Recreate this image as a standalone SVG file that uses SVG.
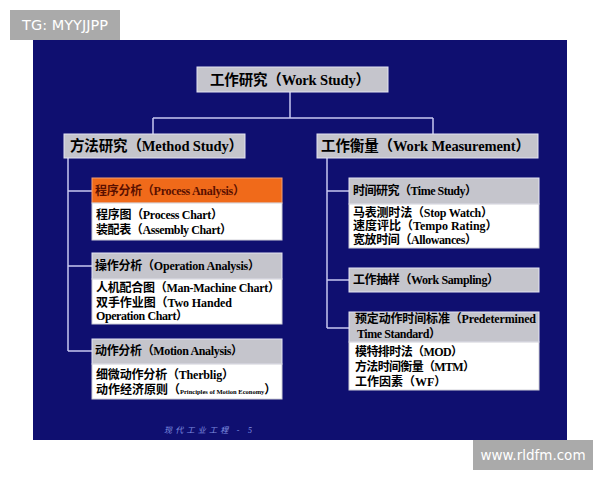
<svg xmlns="http://www.w3.org/2000/svg" width="600" height="480" viewBox="0 0 600 480">
<style>
.t{font-family:"Liberation Serif","Noto Sans CJK SC",serif;font-weight:bold;fill:#000}
.big{font-size:14.5px}
.sm{font-size:12px}
.hd{fill:#c5c5cc;stroke:#e4e4f2;stroke-width:1}
.bd{fill:#ffffff;stroke:#d0d0d8;stroke-width:1}
.ln{fill:none;stroke:#c8c8f0;stroke-width:1.5}
.wm{font-family:"DejaVu Sans",sans-serif;fill:#ffffff}
</style>
<rect x="0" y="0" width="600" height="480" fill="#ffffff"/>
<rect x="33" y="40" width="534" height="400" fill="#0f0f70"/>
<g id="watermark-top"><rect x="10" y="10" width="110" height="30" fill="#aaaaaa"/><text class="wm" x="65" y="30" font-size="14.5" text-anchor="middle">TG: MYYJJPP</text></g>
<g id="watermark-bottom"><rect x="473" y="440" width="120" height="30" fill="#aaaaaa"/><text class="wm" x="533" y="460" font-size="13.5" text-anchor="middle">www.rldfm.com</text></g>
<g id="connectors">
<path class="ln" d="M290 92 V118 M153 118 H433 M153 118 V134 M433 118 V134"/>
<path class="ln" d="M68 158 V351 M68 191 H92 M68 266 H92 M68 351 H92"/>
<path class="ln" d="M327 158 V328 M327 191 H349 M327 280 H349 M327 328 H349"/>
</g>
<g id="work-study"><rect class="hd" x="197" y="67" width="191" height="25"/><text class="t big" x="210" y="84.5" textLength="160">工作研究（Work Study）</text></g>
<g id="method-study"><rect class="hd" x="64" y="134" width="181" height="24"/><text class="t big" x="70" y="151" textLength="173">方法研究（Method Study）</text></g>
<g id="work-measurement"><rect class="hd" x="317" y="134" width="221" height="24"/><text class="t big" x="321" y="151" textLength="209">工作衡量（Work Measurement）</text></g>
<g id="process-analysis">
<rect x="92" y="178" width="190" height="25" fill="#f06a1a" stroke="#f5a070" stroke-width="1"/>
<text class="t sm" x="95" y="195" style="fill:#5a1000" textLength="150">程序分析（Process Analysis）</text>
<rect class="bd" x="92" y="203" width="190" height="37"/>
<text class="t sm" x="96" y="219" textLength="127">程序图（Process Chart）</text>
<text class="t sm" x="96" y="234" textLength="136">装配表（Assembly Chart）</text>
</g>
<g id="operation-analysis">
<rect class="hd" x="92" y="253" width="190" height="26"/>
<text class="t sm" x="95" y="270" textLength="165">操作分析（Operation Analysis）</text>
<rect class="bd" x="92" y="279" width="190" height="45"/>
<text class="t sm" x="96" y="292" textLength="184">人机配合图（Man-Machine Chart）</text>
<text class="t sm" x="96" y="307" textLength="136">双手作业图（Two Handed</text>
<text class="t sm" x="96" y="320" textLength="92">Operation Chart）</text>
</g>
<g id="motion-analysis">
<rect class="hd" x="92" y="339" width="190" height="25"/>
<text class="t sm" x="95" y="355" textLength="148">动作分析（Motion Analysis）</text>
<rect class="bd" x="92" y="364" width="190" height="35"/>
<text class="t sm" x="96" y="379" textLength="138">细微动作分析（Therblig）</text>
<text class="t sm" x="96" y="394">动作经济原则（<tspan font-size="6.5">Principles of Motion Economy</tspan>）</text>
</g>
<g id="time-study">
<rect class="hd" x="349" y="178" width="190" height="26"/>
<text class="t sm" x="353" y="195" textLength="124">时间研究（Time Study）</text>
<rect class="bd" x="349" y="204" width="190" height="44"/>
<text class="t sm" x="353" y="217" textLength="140">马表测时法（Stop Watch）</text>
<text class="t sm" x="353" y="230">速度评比（Tempo Rating）</text>
<text class="t sm" x="353" y="244" textLength="124">宽放时间（Allowances）</text>
</g>
<g id="work-sampling">
<rect class="hd" x="349" y="268" width="190" height="24"/>
<text class="t sm" x="353" y="284" textLength="146">工作抽样（Work Sampling）</text>
</g>
<g id="predetermined">
<rect class="hd" x="349" y="312" width="190" height="30"/>
<text class="t sm" x="355" y="323" textLength="181">预定动作时间标准（Predetermined</text>
<text class="t sm" x="357" y="338" textLength="84">Time Standard）</text>
<rect class="bd" x="349" y="342" width="190" height="48"/>
<text class="t sm" x="355" y="356" textLength="108">模特排时法（MOD）</text>
<text class="t sm" x="355" y="371" textLength="120">方法时间衡量（MTM）</text>
<text class="t sm" x="355" y="386">工作因素（WF）</text>
</g>
<text x="164" y="433" font-family="Liberation Serif,Noto Sans CJK SC,serif" font-size="8" font-style="italic" fill="#8090e0" textLength="88">现代工业工程 - 5</text>
</svg>
